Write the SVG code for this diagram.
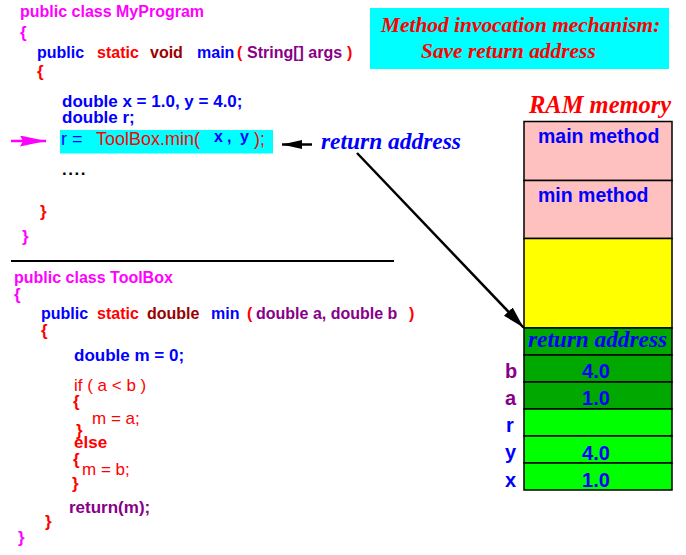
<svg xmlns="http://www.w3.org/2000/svg" width="686" height="555" viewBox="0 0 686 555">
<defs>
<style>
.c{font-family:"Liberation Sans",Arial,sans-serif;font-weight:bold;font-size:17px}
.c16{font-family:"Liberation Sans",Arial,sans-serif;font-weight:bold;font-size:16px}
.n{font-family:"Liberation Sans",Arial,sans-serif;font-weight:normal;font-size:17px}
.n18{font-family:"Liberation Sans",Arial,sans-serif;font-weight:normal;font-size:18px}
.ser{font-family:"Liberation Serif","Times New Roman",serif;font-weight:bold;font-style:italic}
.mem{font-family:"Liberation Sans",Arial,sans-serif;font-weight:bold;font-size:19.5px}
.mag{fill:#FF00FF}.red{fill:#FF0000}.blu{fill:#0000FF}.drd{fill:#990000}.pur{fill:#880088}.blk{fill:#000}
.cell{stroke:#000;stroke-width:1.5}
.lbl{font-family:"Liberation Sans",Arial,sans-serif;font-weight:bold;font-size:20px}
</style>
<marker id="ahBlack" markerUnits="userSpaceOnUse" markerWidth="24" markerHeight="14" refX="22" refY="6" orient="auto">
<path d="M0,0 L22,6 L0,12 z" fill="#000"/>
</marker>
<marker id="ahSmall" markerUnits="userSpaceOnUse" markerWidth="22" markerHeight="12" refX="20" refY="4.5" orient="auto">
<path d="M0,0 L20,4.5 L0,9 z" fill="#000"/>
</marker>
<marker id="ahMag" markerUnits="userSpaceOnUse" markerWidth="28" markerHeight="14" refX="26" refY="5.5" orient="auto">
<path d="M0,0 L26,5.5 L0,11 L3,5.5 z" fill="#FF00FF"/>
</marker>
</defs>
<rect width="686" height="555" fill="#fff"/>

<g id="title">
<rect x="370" y="8" width="299" height="61" fill="#00FFFF"/>
<text class="ser red" x="381" y="32" style="font-size:21.4px">Method invocation mechanism:</text>
<text class="ser red" x="421" y="58" style="font-size:21.4px">Save return address</text>
</g>

<g id="myprogram">
<text class="c16 mag" x="20" y="17">public class MyProgram</text>
<text class="c mag" x="20" y="38">{</text>
<text class="c16 blu" x="37" y="58">public</text>
<text class="c16 red" x="97" y="58">static</text>
<text class="c16 drd" x="150" y="58">void</text>
<text class="c16 blu" x="197" y="58">main</text>
<text class="c16 red" x="237" y="58">(</text>
<text class="c16 pur" x="247" y="58">String[] args</text>
<text class="c16 red" x="347" y="58">)</text>
<text class="c red" x="37" y="77">{</text>
<text class="c blu" x="62" y="107">double x = 1.0, y = 4.0;</text>
<text class="c blu" x="62" y="123">double r;</text>
<rect x="60" y="130" width="213" height="23.5" fill="#00FFFF"/>
<text class="n18 blu" x="61" y="144.5">r =</text>
<text class="n18 red" x="96" y="144.5">ToolBox.min(</text>
<text class="c16 blu" x="214" y="142">x</text>
<text class="c16 blu" x="227" y="142">,</text>
<text class="c16 blu" x="240" y="142">y</text>
<text class="n18 red" x="254" y="144.5">);</text>
<text class="c blk" x="62" y="175" letter-spacing="1.5">....</text>
<text class="c red" x="40" y="217">}</text>
<text class="c mag" x="22" y="242">}</text>
</g>

<g id="separator">
<line x1="11" y1="261" x2="394" y2="261" stroke="#000" stroke-width="2"/>
</g>

<g id="toolbox">
<text class="c16 mag" x="14" y="283">public class ToolBox</text>
<text class="c mag" x="14" y="300">{</text>
<text class="c16 blu" x="41" y="319">public</text>
<text class="c16 red" x="97" y="319">static</text>
<text class="c16 drd" x="147" y="319">double</text>
<text class="c16 blu" x="211" y="319">min</text>
<text class="c16 red" x="247" y="319">(</text>
<text class="c16 pur" x="256" y="319">double a, double b</text>
<text class="c16 red" x="409" y="319">)</text>
<text class="c red" x="41" y="336">{</text>
<text class="c blu" x="74" y="361">double m = 0;</text>
<text class="n red" x="74" y="391">if ( a &lt; b )</text>
<text class="c red" x="73" y="407">{</text>
<text class="n red" x="92" y="424">m = a;</text>
<text class="c red" x="76" y="436">}</text>
<text class="c red" x="74" y="448">else</text>
<text class="c red" x="73" y="465">{</text>
<text class="n red" x="82" y="475">m = b;</text>
<text class="c red" x="72" y="489">}</text>
<text class="c pur" x="69" y="513">return(m);</text>
<text class="c red" x="45" y="527">}</text>
<text class="c mag" x="18" y="543">}</text>
</g>

<g id="ram-title">
<text class="ser red" x="529" y="113" style="font-size:24.5px">RAM memory</text>
</g>

<g id="ram-main">
<rect class="cell" x="524" y="121.5" width="148" height="59" fill="#FFC0C0"/>
<text class="mem blu" x="538" y="143">main method</text>
</g>
<g id="ram-min">
<rect class="cell" x="524" y="180.5" width="148" height="58" fill="#FFC0C0"/>
<text class="mem blu" x="538" y="202">min method</text>
</g>
<g id="ram-free">
<rect class="cell" x="524" y="238.5" width="148" height="89.5" fill="#FFFF00"/>
</g>
<g id="ram-return">
<rect class="cell" x="524" y="328" width="148" height="27" fill="#00A800"/>
<text class="ser blu" x="528" y="347" style="font-size:22.5px" textLength="139" lengthAdjust="spacingAndGlyphs">return address</text>
</g>
<g id="ram-b">
<rect class="cell" x="524" y="355" width="148" height="27" fill="#00A800"/>
<text class="lbl pur" x="505" y="378">b</text>
<text class="lbl blu" x="596" y="378" text-anchor="middle">4.0</text>
</g>
<g id="ram-a">
<rect class="cell" x="524" y="382" width="148" height="27" fill="#00A800"/>
<text class="lbl pur" x="505" y="405">a</text>
<text class="lbl blu" x="596" y="405" text-anchor="middle">1.0</text>
</g>
<g id="ram-r">
<rect class="cell" x="524" y="409" width="148" height="27" fill="#00FF00"/>
<text class="lbl blu" x="506" y="432">r</text>
</g>
<g id="ram-y">
<rect class="cell" x="524" y="436" width="148" height="27" fill="#00FF00"/>
<text class="lbl blu" x="505" y="459">y</text>
<text class="lbl blu" x="596" y="460" text-anchor="middle">4.0</text>
</g>
<g id="ram-x">
<rect class="cell" x="524" y="463" width="148" height="27" fill="#00FF00"/>
<text class="lbl blu" x="505" y="487">x</text>
<text class="lbl blu" x="596" y="487" text-anchor="middle">1.0</text>
</g>

<g id="return-label">
<text class="ser blu" x="321" y="149" style="font-size:23px" textLength="140" lengthAdjust="spacingAndGlyphs">return address</text>
</g>

<g id="connectors">
<line x1="11" y1="141" x2="46" y2="141" stroke="#FF00FF" stroke-width="2.5" marker-end="url(#ahMag)"/>
<line x1="312" y1="144.5" x2="282" y2="144.5" stroke="#000" stroke-width="2.5" marker-end="url(#ahSmall)"/>
<line x1="357" y1="153" x2="523.5" y2="327.5" stroke="#000" stroke-width="2.5" marker-end="url(#ahBlack)"/>
</g>
</svg>
